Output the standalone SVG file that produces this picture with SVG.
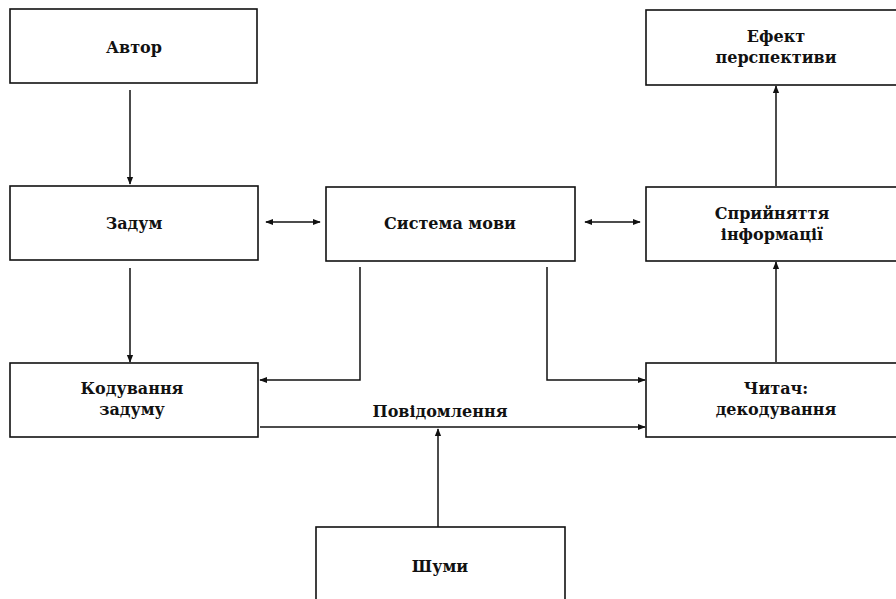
<svg xmlns="http://www.w3.org/2000/svg" width="896" height="599" viewBox="0 0 896 599">
<style>
.box{fill:#fff;stroke:#111;stroke-width:1.6}
.ln{fill:none;stroke:#111;stroke-width:1.5}
.t{font-family:"DejaVu Serif","Liberation Serif",serif;font-weight:bold;font-size:16px;fill:#111;text-anchor:middle}
</style>
<defs>
<marker id="ah" viewBox="0 0 10 10" refX="9" refY="5" markerWidth="8" markerHeight="8" markerUnits="userSpaceOnUse" orient="auto-start-reverse">
<path d="M0,1 L10,5 L0,9 Z" fill="#111"/>
</marker>
</defs>
<g id="connectors">
<line class="ln" x1="130" y1="90" x2="130" y2="184" marker-end="url(#ah)"/>
<line class="ln" x1="130" y1="268" x2="130" y2="362" marker-end="url(#ah)"/>
<line class="ln" x1="266" y1="222" x2="320" y2="222" marker-start="url(#ah)" marker-end="url(#ah)"/>
<line class="ln" x1="585" y1="222" x2="640" y2="222" marker-start="url(#ah)" marker-end="url(#ah)"/>
<line class="ln" x1="776" y1="186" x2="776" y2="86" marker-end="url(#ah)"/>
<line class="ln" x1="776" y1="362" x2="776" y2="262" marker-end="url(#ah)"/>
<polyline class="ln" points="360,267 360,380 260,380" marker-end="url(#ah)"/>
<polyline class="ln" points="547,267 547,380 645,380" marker-end="url(#ah)"/>
<line class="ln" x1="260" y1="427" x2="645" y2="427" marker-end="url(#ah)"/>
<line class="ln" x1="438" y1="527" x2="438" y2="429" marker-end="url(#ah)"/>
<text class="t" x="440" y="417">Повідомлення</text>
</g>
<g id="avtor"><rect class="box" x="10" y="9" width="247" height="74"/><text class="t" x="134" y="53">Автор</text></g>
<g id="zadum"><rect class="box" x="10" y="186" width="248" height="74"/><text class="t" x="134" y="229">Задум</text></g>
<g id="systema"><rect class="box" x="326" y="187" width="249" height="74"/><text class="t" x="450" y="229">Система мови</text></g>
<g id="spryin"><rect class="box" x="646" y="187" width="260" height="74"/><text class="t" x="772" y="219">Сприйняття</text><text class="t" x="772" y="240">інформації</text></g>
<g id="efekt"><rect class="box" x="646" y="10" width="260" height="75"/><text class="t" x="776" y="42">Ефект</text><text class="t" x="776" y="63">перспективи</text></g>
<g id="koduv"><rect class="box" x="10" y="363" width="248" height="74"/><text class="t" x="132" y="394">Кодування</text><text class="t" x="132" y="415">задуму</text></g>
<g id="chytach"><rect class="box" x="646" y="363" width="260" height="74"/><text class="t" x="776" y="394">Читач:</text><text class="t" x="776" y="415">декодування</text></g>
<g id="shumy"><rect class="box" x="316" y="527" width="249" height="90"/><text class="t" x="440" y="572">Шуми</text></g>
</svg>
